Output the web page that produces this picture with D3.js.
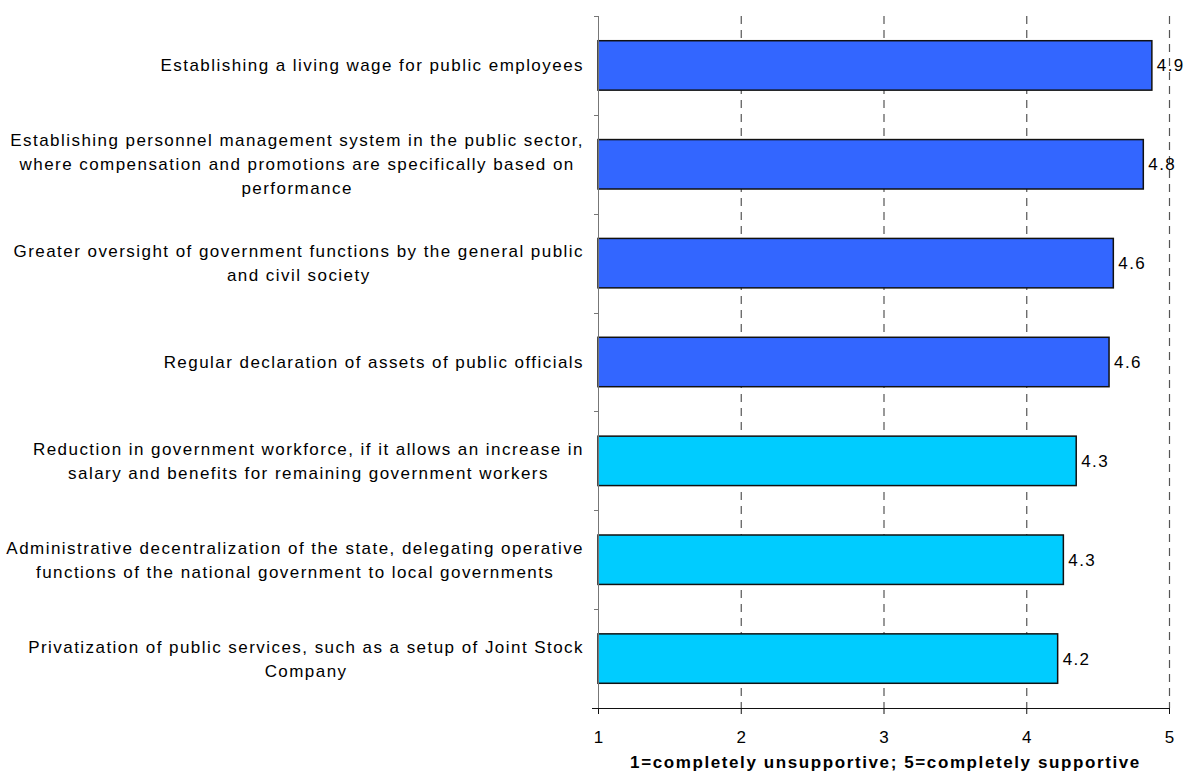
<!DOCTYPE html>
<html>
<head>
<meta charset="utf-8">
<script src="https://cdn.jsdelivr.net/npm/d3@7"></script>
<style>
  html, body { margin: 0; padding: 0; background: #fff; }
  svg { display: block; font-family: "Liberation Sans", Arial, sans-serif; }
</style>
</head>
<body>
<svg id="chart" width="1188" height="773"></svg>
<script>
// Survey items (top to bottom), each split into its display lines
const categories = [
  ["Establishing a living wage for public employees"],
  ["Establishing personnel management system in the public sector,",
   "where compensation and promotions are specifically based on",
   "performance"],
  ["Greater oversight of government functions by the general public",
   "and civil society"],
  ["Regular declaration of assets of public officials"],
  ["Reduction in government workforce, if it allows an increase in",
   "salary and benefits for remaining government workers"],
  ["Administrative decentralization of the state, delegating operative",
   "functions of the national government to local governments"],
  ["Privatization of public services, such as a setup of Joint Stock",
   "Company"]
];
// Mean support score per item
const values = [4.88, 4.82, 4.61, 4.58, 4.35, 4.26, 4.22];
// Group of each item (0 = strongly backed, 1 = less backed)
const groups = [0, 0, 0, 0, 1, 1, 1];
const groupColors = ["#3366FF", "#00CCFF"];
const xTicks = [1, 2, 3, 4, 5];
const xTitle = "1=completely unsupportive; 5=completely supportive";

const svg = d3.select("#chart");
const plotL = 598, plotR = 1169, plotT = 16, plotB = 708;

const x = d3.scaleLinear().domain([1, 5]).range([plotL, plotR]);
const y = d3.scaleBand().domain(d3.range(categories.length)).range([plotT, plotB]).paddingInner(0.5).paddingOuter(0.25);
const yEdge = d3.scaleLinear().domain([0, categories.length]).range([plotT, plotB]);

// dashed vertical gridlines
svg.append("g").selectAll("line")
  .data(xTicks.slice(1))
  .join("line")
  .attr("x1", d => x(d) + 0.5).attr("x2", d => x(d) + 0.5)
  .attr("y1", plotT).attr("y2", plotB)
  .attr("stroke", "#555").attr("stroke-width", 1.2)
  .attr("stroke-dasharray", "8,6");

// bars
svg.append("g").selectAll("rect")
  .data(values)
  .join("rect")
  .attr("x", x(1))
  .attr("y", (d, i) => y(i))
  .attr("width", d => x(d) - x(1))
  .attr("height", y.bandwidth())
  .attr("fill", (d, i) => groupColors[groups[i]])
  .attr("stroke", "#111").attr("stroke-width", 1.5);

// value labels
svg.append("g").selectAll("text")
  .data(values)
  .join("text")
  .attr("x", d => x(d) + 5)
  .attr("y", (d, i) => y(i) + y.bandwidth() / 2)
  .attr("dy", "0.35em")
  .attr("font-size", 17)
  .attr("letter-spacing", 1.4)
  .attr("fill", "#000")
  .text(d => d3.format(".1f")(d));

// y axis line with ticks between categories
const yAxis = svg.append("g");
yAxis.append("line")
  .attr("x1", plotL + 0.5).attr("x2", plotL + 0.5)
  .attr("y1", plotT).attr("y2", plotB)
  .attr("stroke", "#777");
yAxis.selectAll("line.tick")
  .data(d3.range(categories.length))
  .join("line").attr("class", "tick")
  .attr("x1", plotL - 4).attr("x2", plotL)
  .attr("y1", d => Math.round(yEdge(d)) + 0.5)
  .attr("y2", d => Math.round(yEdge(d)) + 0.5)
  .attr("stroke", "#777");

// x axis
const xAxis = svg.append("g").attr("transform", `translate(0,${plotB})`)
  .call(d3.axisBottom(x).tickValues(xTicks).tickFormat(d3.format("d"))
    .tickSize(6).tickPadding(17).tickSizeOuter(0));
xAxis.select(".domain").attr("stroke", "#111");
xAxis.selectAll(".tick line").attr("stroke", "#111");
xAxis.selectAll(".tick text")
  .attr("font-family", "Liberation Sans, Arial, sans-serif")
  .attr("font-size", 17).attr("fill", "#000");
// short stub of the axis line left of the origin
xAxis.append("line").attr("x1", plotL - 6).attr("x2", plotL).attr("y1", 0.5).attr("y2", 0.5).attr("stroke", "#111");

// x axis title
svg.append("text")
  .attr("x", (plotL + plotR) / 2 + 2)
  .attr("y", 768)
  .attr("text-anchor", "middle")
  .attr("font-size", 17)
  .attr("font-weight", "bold")
  .attr("letter-spacing", 1.6)
  .text(xTitle);

// category labels: block right-aligned, lines centered within block
const labelRight = 584;
const lineH = 24;
const lab = svg.append("g").attr("font-size", 17).attr("letter-spacing", 1.45).attr("fill", "#000");
categories.forEach((lines, i) => {
  const g = lab.append("g");
  const texts = lines.map(s => g.append("text").attr("text-anchor", "middle").text(s));
  const maxW = d3.max(texts, t => t.node().getComputedTextLength());
  const cx = labelRight - maxW / 2;
  const cy = y(i) + y.bandwidth() / 2;
  texts.forEach((t, k) => {
    t.attr("x", cx)
     .attr("y", cy + (k - (lines.length - 1) / 2) * lineH)
     .attr("dy", "0.35em");
  });
});
</script>
</body>
</html>
